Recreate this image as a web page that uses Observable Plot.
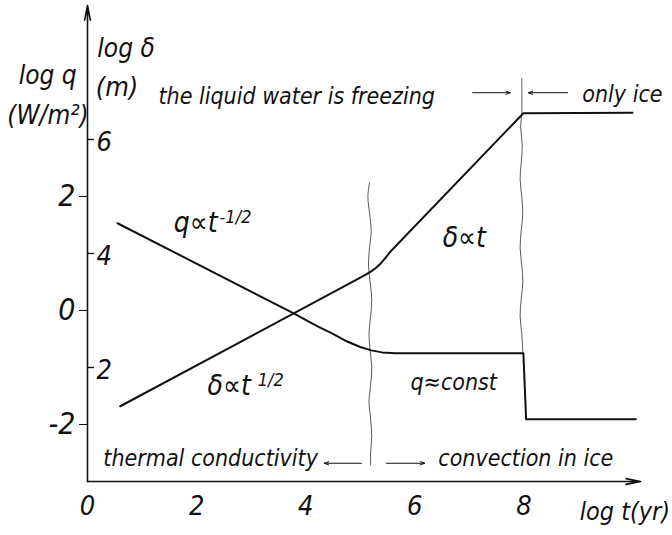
<!DOCTYPE html>
<html><head><meta charset="utf-8">
<script src="https://cdn.jsdelivr.net/npm/d3@7"></script>
<script src="https://cdn.jsdelivr.net/npm/@observablehq/plot@0.6"></script>
<style>body{margin:0;background:#fff}</style>
</head><body><div id="chart"></div>
<script>
// log t (yr) and log q (W/m^2) for the heat-flux curve
const qTime  = [0.55, 3.78, 4.2, 4.5, 4.75, 5.0, 5.2, 5.4, 5.65, 7.99, 8.04, 10.05];
const qValue = [1.53, -0.05, -0.27, -0.41, -0.54, -0.64, -0.70, -0.735, -0.752, -0.752, -1.91, -1.91];
// log t (yr) and log delta (m) for the ice-thickness curve
const dTime  = [0.60, 3.78, 4.95, 5.1, 5.2, 5.28, 5.36, 5.45, 5.55, 7.99, 9.99];
const dValue = [1.32, 2.95, 3.55, 3.63, 3.685, 3.74, 3.81, 3.91, 4.03, 6.46, 6.47];
// the inner (log delta) axis reads log q + 3
const deltaOffset = 3;
const qTicks = [2, 0, -2];
const deltaTicks = [6, 4, 2];
const tTicks = [0, 2, 4, 6, 8];
// wavy regime boundaries (t, log q)
const wavy1T = [5.17, 5.14, 5.17, 5.20, 5.17, 5.15, 5.18, 5.21, 5.19, 5.16, 5.18, 5.21, 5.19, 5.16, 5.19, 5.21, 5.19, 5.19];
const wavy1Q = [2.25, 2.0, 1.7, 1.4, 1.1, 0.8, 0.5, 0.2, -0.1, -0.4, -0.7, -1.0, -1.3, -1.6, -1.9, -2.2, -2.5, -2.72];
const wavy2T = [7.96, 7.96, 7.94, 7.97, 7.95, 7.93, 7.96, 7.98, 7.95, 7.93, 7.96, 7.98, 7.95, 7.93, 7.96, 7.98];
const wavy2Q = [4.07, 3.46, 3.2, 2.9, 2.6, 2.3, 2.0, 1.7, 1.4, 1.1, 0.8, 0.5, 0.2, -0.1, -0.4, -0.75];
// annotations: text with anchor in (log t, log q)
const labelText = ["the liquid water is freezing", "only ice", "q\u2248const", "thermal conductivity", "convection in ice"];
const labelT = [1.30, 9.07, 5.92, 0.29, 6.43];
const labelQ = [3.63, 3.65, -1.40, -2.72, -2.72];
const formulaText = ["q\u221dt", "\u03b4\u221dt", "\u03b4\u221dt"];
const formulaT = [1.58, 2.20, 6.51];
const formulaQ = [1.37, -1.49, 1.12];
const supText = ["-1/2", "1/2"];
const supT = [2.42, 3.12];
const supQ = [1.54, -1.33];
// direction arrows (t1, t2 at log q level)
const arrowT1 = [7.06, 8.80, 5.02, 5.48];
const arrowT2 = [7.75, 8.08, 4.34, 6.18];
const arrowQ  = [3.82, 3.82, -2.68, -2.68];

const W = 672, H = 535, mL = 87, mR = 34, mT = 5, mB = 54;
const xMax = 10.1, yMin = -3, yMax = 5.35;
const pxPerT = (W - mL - mR) / xMax;

const qData = qTime.map((t, i) => ({t, v: qValue[i]}));
const dData = dTime.map((t, i) => ({t, v: dValue[i] - deltaOffset}));
const w1 = wavy1T.map((t, i) => ({t, v: wavy1Q[i]}));
const w2 = wavy2T.map((t, i) => ({t, v: wavy2Q[i]}));
const labels = labelText.map((s, i) => ({s, t: labelT[i], v: labelQ[i]}));
const formulas = formulaText.map((s, i) => ({s, t: formulaT[i], v: formulaQ[i]}));
const sups = supText.map((s, i) => ({s, t: supT[i], v: supQ[i]}));
const arrows = arrowT1.map((t1, i) => ({t1, t2: arrowT2[i], v: arrowQ[i]}));

const font = "'Liberation Sans Narrow', 'DejaVu Sans Condensed', 'Liberation Sans', sans-serif";
const ink = "#111";

const chart = Plot.plot({
  width: W, height: H,
  marginLeft: mL, marginRight: mR, marginTop: mT, marginBottom: mB,
  x: {domain: [0, xMax], label: null},
  y: {domain: [yMin, yMax], label: null},
  style: {fontFamily: font, fontStyle: "italic", background: "#fff", color: ink},
  marks: [
    // axes lines with arrows
    Plot.arrow([{}], {x1: 0, y1: yMin, x2: 10.14, y2: yMin, stroke: ink, strokeWidth: 1.6, headLength: 14, headAngle: 22}),
    Plot.arrow([{}], {x1: 0, y1: yMin, x2: 0, y2: yMax, stroke: ink, strokeWidth: 1.6, headLength: 14, headAngle: 22}),
    Plot.axisY({ticks: qTicks, tickSize: 8, tickPadding: 4, fontSize: 30, label: null, tickFormat: d => d < 0 ? "-" + Math.abs(d) : String(d), stroke: ink}),
    Plot.ruleY(deltaTicks, {y: d => d - deltaOffset, x1: 0, x2: 7 / pxPerT, stroke: ink, strokeWidth: 1.4}),
    Plot.text(deltaTicks, {x: 0, y: d => d - deltaOffset, text: d => String(d), dx: 9, dy: 3, textAnchor: "start", lineAnchor: "middle", fontSize: 27, fill: ink}),
    Plot.axisX({ticks: tTicks, tickSize: 0, tickPadding: 14, fontSize: 27, label: null}),
    // regime boundaries
    Plot.line(w1, {x: "t", y: "v", curve: "catmull-rom", stroke: "#444", strokeWidth: 0.9}),
    Plot.line(w2, {x: "t", y: "v", curve: "catmull-rom", stroke: "#444", strokeWidth: 0.9}),
    // curves
    Plot.line(qData, {x: "t", y: "v", stroke: ink, strokeWidth: 2}),
    Plot.line(dData, {x: "t", y: "v", stroke: ink, strokeWidth: 2}),
    // direction arrows
    Plot.arrow(arrows, {x1: "t1", y1: "v", x2: "t2", y2: "v", stroke: ink, strokeWidth: 1, headLength: 7, headAngle: 40}),
    // annotations
    Plot.text(labels, {x: "t", y: "v", text: "s", textAnchor: "start", lineAnchor: "bottom", fontSize: 23, fill: ink}),
    Plot.text(formulas, {x: "t", y: "v", text: "s", textAnchor: "start", lineAnchor: "bottom", fontSize: 28, fill: ink}),
    Plot.text(sups, {x: "t", y: "v", text: "s", textAnchor: "start", lineAnchor: "bottom", fontSize: 18, fill: ink}),
    // axis titles
    Plot.text(["log q"], {x: -1.26, y: 3.98, text: d => d, textAnchor: "start", lineAnchor: "bottom", fontSize: 26, fill: ink}),
    Plot.text(["(W/m\u00b2)"], {x: -1.47, y: 3.28, text: d => d, textAnchor: "start", lineAnchor: "bottom", fontSize: 26, fill: ink}),
    Plot.text(["log \u03b4"], {x: 0.18, y: 4.44, text: d => d, textAnchor: "start", lineAnchor: "bottom", fontSize: 26, fill: ink}),
    Plot.text(["(m)"], {x: 0.15, y: 3.77, text: d => d, textAnchor: "start", lineAnchor: "bottom", fontSize: 27, fill: ink}),
    Plot.text(["log t(yr)"], {x: 10.68, y: -3.68, text: d => d, textAnchor: "end", lineAnchor: "bottom", fontSize: 25, fill: ink})
  ]
});
document.getElementById("chart").appendChild(chart);
</script>
</body></html>
